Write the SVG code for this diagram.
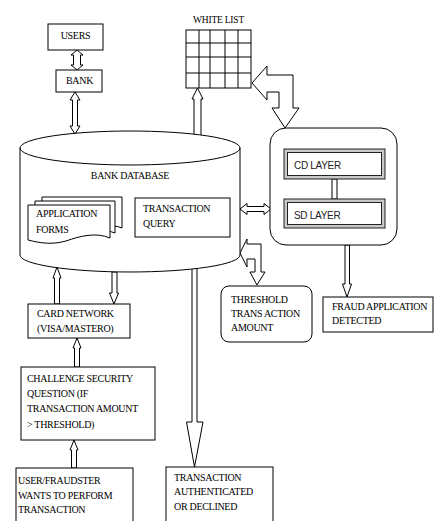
<svg xmlns="http://www.w3.org/2000/svg" width="436" height="521" viewBox="0 0 436 521">
<style>
.b{fill:#fff;stroke:#000;stroke-width:1}
.a{fill:#fff;stroke:#000;stroke-width:1;stroke-linejoin:miter}
.t{font-family:"Liberation Serif","Times New Roman",serif;font-size:10px;letter-spacing:-0.3px;fill:#000}
.s{font-family:"Liberation Sans",Arial,sans-serif;font-size:10px;letter-spacing:-0.3px;fill:#222}
.bev{fill:#c8c8c8;stroke:#222;stroke-width:1}
.in{fill:#fff;stroke:#222;stroke-width:1}
</style>
<rect width="436" height="521" fill="#fff"/>
<g id="connectors">
<path class="a" d="M77,50 L83,55 L80.5,55 L80.5,65 L83,65 L77,70 L71,65 L73.5,65 L73.5,55 L71,55 Z"/>
<path class="a" d="M75,92 L80,100 L77.5,100 L77.5,126 L80,126 L75,134 L70,126 L72.5,126 L72.5,100 L70,100 Z"/>
<path class="a" d="M197.5,88 L203,99 L201,99 L201,136 L194,136 L194,99 L192,99 Z"/>
<path class="a" d="M252,83 L267,66 L267,75 L293,75 L293,108 L299,108 L285,128 L272,108 L279,108 L279,92 L267,92 L267,100 Z"/>
<path class="a" d="M240,209 L247,203.5 L247,206.5 L264,206.5 L264,203.5 L271,209 L264,214.5 L264,211.5 L247,211.5 L247,214.5 Z"/>
<path class="a" d="M240,253 L247,239 L247,244 L261,244 L261,272 L265,272 L257,285 L250,272 L255,272 L255,259 L247,259 L247,267 Z"/>
<path class="a" d="M345,245 L349.5,245 L349.5,284 L351.5,284 L347,297 L342.5,284 L345,284 Z"/>
<path class="a" d="M192,268 L197,268 L197,422 L203,422 L194.5,467 L186.5,422 L192,422 Z"/>
<path class="a" d="M57,267 L61,278 L59.5,278 L59.5,304 L54.5,304 L54.5,278 L53,278 Z"/>
<path class="a" d="M112,272 L117,272 L117,293 L118.5,293 L114,304 L109.5,293 L112,293 Z"/>
<path class="a" d="M77,338 L81,348 L79.5,348 L79.5,367 L74.5,367 L74.5,348 L73,348 Z"/>
<path class="a" d="M74,440 L78,450 L76.5,450 L76.5,468 L71.5,468 L71.5,450 L70,450 Z"/>
</g>
<g id="users">
<rect class="b" x="48" y="24" width="55" height="26"/>
<text class="t" x="75.5" y="39" text-anchor="middle">USERS</text>
</g>
<g id="bank">
<rect class="b" x="56" y="70" width="46" height="22"/>
<text class="t" x="79.5" y="84" text-anchor="middle">BANK</text>
</g>
<g id="whitelist">
<text class="t" x="218.5" y="23" text-anchor="middle" style="font-size:9.5px;letter-spacing:-0.2px">WHITE LIST</text>
<rect class="b" x="186" y="30" width="65" height="58"/>
<path d="M199,30V88M210,30V88M225,30V88M238,30V88M186,43H251M186,57H251M186,73H251" stroke="#000" stroke-width="1" fill="none"/>
</g>
<g id="bankdatabase">
<path class="b" d="M20,148 A110,17 0 0 1 240,148 V255 A110,17 0 0 1 20,255 Z"/>
<path d="M20,148 A110,17 0 0 0 240,148" fill="none" stroke="#000" stroke-width="1"/>
<text class="t" x="130" y="179" text-anchor="middle">BANK DATABASE</text>
</g>
<g id="applicationforms">
<path class="b" d="M42,197 H122 V228 C112,224 104,226 95,230 L42,230 Z"/>
<path class="b" d="M35,201 H115 V233 C105,229 97,231 88,235 L35,235 Z"/>
<path class="b" d="M28,205 H110 V238 C96,232 80,236 66,241 C52,245 40,243 28,240 Z"/>
<text class="t" x="36" y="217">APPLICATION</text>
<text class="t" x="36" y="233">FORMS</text>
</g>
<g id="transactionquery">
<rect class="b" x="135" y="198" width="95" height="39"/>
<text class="t" x="143" y="212">TRANSACTION</text>
<text class="t" x="143" y="227">QUERY</text>
</g>
<g id="layers">
<rect class="b" x="270" y="128" width="127" height="117" rx="16" ry="16"/>
<rect class="b" x="332" y="179" width="5" height="20"/>
</g>
<g id="cdlayer">
<rect class="bev" x="284" y="149" width="101" height="30"/>
<rect class="in" x="287.5" y="152.5" width="94" height="23"/>
<text class="s" x="294" y="169">CD LAYER</text>
</g>
<g id="sdlayer">
<rect class="bev" x="284" y="199" width="101" height="29"/>
<rect class="in" x="287.5" y="202.5" width="94" height="22"/>
<text class="s" x="294" y="219">SD LAYER</text>
</g>
<g id="threshold">
<rect class="b" x="221" y="286" width="91" height="56" rx="8" ry="8"/>
<text class="t" x="231" y="303">THRESHOLD</text>
<text class="t" x="231" y="317">TRANS ACTION</text>
<text class="t" x="231" y="331">AMOUNT</text>
</g>
<g id="fraud">
<rect class="b" x="323" y="297" width="110" height="35"/>
<text class="t" x="332" y="310">FRAUD APPLICATION</text>
<text class="t" x="332" y="324">DETECTED</text>
</g>
<g id="cardnetwork">
<rect class="b" x="28" y="304" width="102" height="34"/>
<text class="t" x="37" y="317">CARD NETWORK</text>
<text class="t" x="37" y="332">(VISA/MASTERO)</text>
</g>
<g id="challenge">
<rect class="b" x="21" y="367" width="134" height="73"/>
<text class="t" x="27" y="382">CHALLENGE SECURITY</text>
<text class="t" x="27" y="397">QUESTION (IF</text>
<text class="t" x="27" y="412">TRANSACTION AMOUNT</text>
<text class="t" x="27" y="428">&gt; THRESHOLD)</text>
</g>
<g id="user">
<rect class="b" x="16" y="468" width="117" height="60"/>
<text class="t" x="18" y="484">USER/FRAUDSTER</text>
<text class="t" x="18" y="499">WANTS TO PERFORM</text>
<text class="t" x="18" y="513">TRANSACTION</text>
</g>
<g id="result">
<rect class="b" x="166" y="467" width="107" height="60"/>
<text class="t" x="174" y="481">TRANSACTION</text>
<text class="t" x="174" y="495">AUTHENTICATED</text>
<text class="t" x="174" y="510">OR DECLINED</text>
</g>
</svg>
